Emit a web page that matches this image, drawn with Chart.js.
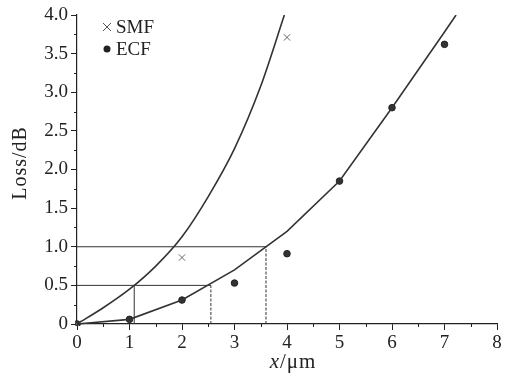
<!DOCTYPE html>
<html>
<head>
<meta charset="utf-8">
<script src="https://cdn.jsdelivr.net/npm/chart.js@4.4.0/dist/chart.umd.min.js"></script>
<style>
    html, body { margin: 0; padding: 0; background: #fff; }
    #wrap { position: relative; width: 505px; height: 374px; }
</style>
</head>
<body>
<div id="wrap"><canvas id="chart-loss" width="505" height="374"></canvas></div>
<script>
// measured points
const smfX = [0, 2, 4];
const smfLoss = [0, 0.86, 3.71];
const ecfX = [0, 1, 2, 3, 4, 5, 6, 7];
const ecfLoss = [0, 0.06, 0.31, 0.53, 0.91, 1.85, 2.80, 3.62];

// fitted curves
const smfFitX = [0, 0.5, 1.0, 1.5, 2.0, 2.5, 3.0, 3.5, 3.95];
const smfFitLoss = [0, 0.21, 0.45, 0.75, 1.13, 1.65, 2.27, 3.08, 4.0];
const ecfFitX = [0, 1, 2, 3, 4, 5, 6, 7, 7.22];
const ecfFitLoss = [0, 0.06, 0.31, 0.70, 1.20, 1.85, 2.80, 3.78, 4.0];

// guide lines (loss level -> width)
const guideLevels = [0.5, 1.0];
const guideSmfX = [1.09, 1.82];
const guideEcfX = [2.55, 3.6];

const xTicks = [0, 1, 2, 3, 4, 5, 6, 7, 8];
const yTicks = [0, 0.5, 1.0, 1.5, 2.0, 2.5, 3.0, 3.5, 4.0];

const FONT = "'Liberation Serif', 'Times New Roman', serif";
const INK = "#222";

const toPts = (xs, ys) => xs.map((x, i) => ({ x: x, y: ys[i] }));

const guideSets = [];
guideLevels.forEach((lv, i) => {
    // horizontal from axis to ECF curve
    guideSets.push({
        data: [{ x: 0, y: lv }, { x: guideEcfX[i], y: lv }],
        borderColor: "#333", borderWidth: 1, pointRadius: 0, showLine: true
    });
    // vertical drop lines
    guideSets.push({
        data: [{ x: guideEcfX[i], y: 0 }, { x: guideEcfX[i], y: lv }],
        borderColor: "#333", borderWidth: 1, borderDash: [3, 1.5], pointRadius: 0, showLine: true
    });
});
guideSets.push({
    data: [{ x: guideSmfX[0], y: 0 }, { x: guideSmfX[0], y: guideLevels[0] }],
    borderColor: "#333", borderWidth: 1, pointRadius: 0, showLine: true
});

// minor ticks, axis titles and legend drawn on top
const extrasPlugin = {
    id: "extras",
    afterDraw(chart) {
        const ctx = chart.ctx;
        const xs = chart.scales.x, ys = chart.scales.y;
        const area = chart.chartArea;
        ctx.save();
        ctx.strokeStyle = INK;
        ctx.lineWidth = 1;
        ctx.beginPath();
        for (let v = 0.5; v < 8; v += 1) {
            const px = Math.round(xs.getPixelForValue(v)) + 0.5;
            ctx.moveTo(px, area.bottom);
            ctx.lineTo(px, area.bottom + 3);
        }
        for (let v = 0.25; v < 4; v += 0.5) {
            const py = Math.round(ys.getPixelForValue(v)) + 0.5;
            ctx.moveTo(area.left, py);
            ctx.lineTo(area.left - 3, py);
        }
        ctx.stroke();

        ctx.fillStyle = INK;
        ctx.textBaseline = "middle";
        ctx.letterSpacing = "1px";

        // x axis title: italic x then /μm
        ctx.font = "italic 21px " + FONT;
        const wx = ctx.measureText("x").width;
        ctx.font = "21px " + FONT;
        const wr = ctx.measureText("/μm").width;
        const startX = 293 - (wx + wr) / 2;
        ctx.font = "italic 21px " + FONT;
        ctx.textAlign = "left";
        ctx.fillText("x", startX, 362);
        ctx.font = "21px " + FONT;
        ctx.fillText("/μm", startX + wx, 362);

        // y axis title
        ctx.save();
        ctx.translate(21, 163);
        ctx.rotate(-Math.PI / 2);
        ctx.textAlign = "center";
        ctx.font = "20px " + FONT;
        ctx.fillText("Loss/dB", 0, 0);
        ctx.restore();

        // legend
        ctx.letterSpacing = "0px";
        const lx = 107;
        ctx.strokeStyle = "#555";
        ctx.beginPath();
        ctx.moveTo(lx - 4, 23); ctx.lineTo(lx + 4, 31);
        ctx.moveTo(lx + 4, 23); ctx.lineTo(lx - 4, 31);
        ctx.stroke();
        ctx.fillStyle = INK;
        ctx.beginPath();
        ctx.arc(lx, 49, 3.5, 0, Math.PI * 2);
        ctx.fill();
        ctx.textAlign = "left";
        ctx.font = "19px " + FONT;
        ctx.fillText("SMF", 116, 28);
        ctx.fillText("ECF", 116, 50);
        ctx.restore();
    }
};

new Chart(document.getElementById("chart-loss").getContext("2d"), {
    type: "scatter",
    data: {
        datasets: [
            {
                label: "SMF fit",
                data: toPts(smfFitX, smfFitLoss),
                showLine: true, pointRadius: 0,
                borderColor: "#333", borderWidth: 1.6,
                cubicInterpolationMode: "monotone"
            },
            {
                label: "ECF fit",
                data: toPts(ecfFitX, ecfFitLoss),
                showLine: true, pointRadius: 0,
                borderColor: "#333", borderWidth: 1.6
            },
            ...guideSets,
            {
                label: "SMF",
                data: toPts(smfX, smfLoss),
                pointStyle: "crossRot", pointRadius: 4.5,
                borderColor: "#666", borderWidth: 1, backgroundColor: "#666"
            },
            {
                label: "ECF",
                data: toPts(ecfX, ecfLoss),
                pointStyle: "circle", pointRadius: 3.3,
                borderColor: INK, borderWidth: 1, backgroundColor: "#333"
            }
        ]
    },
    options: {
        responsive: false,
        animation: false,
        clip: { left: 2, top: 0, right: 2, bottom: 2 },
        layout: { padding: { top: 15, right: 8, left: 0, bottom: 0 } },
        plugins: {
            legend: { display: false },
            tooltip: { enabled: false }
        },
        scales: {
            x: {
                type: "linear", min: 0, max: 8,
                afterFit: s => { s.height = 50; },
                afterBuildTicks: s => { s.ticks = xTicks.map(v => ({ value: v })); },
                border: { color: INK, width: 1.2 },
                grid: { drawOnChartArea: false, tickLength: 6, color: INK },
                ticks: { color: INK, padding: 2, autoSkip: false, maxRotation: 0, font: { family: FONT, size: 19 } }
            },
            y: {
                type: "linear", min: 0, max: 4,
                afterFit: s => { s.width = 77; },
                afterBuildTicks: s => { s.ticks = yTicks.map(v => ({ value: v })); },
                border: { color: INK, width: 1.2 },
                grid: { drawOnChartArea: false, tickLength: 6, color: INK },
                ticks: {
                    color: INK, padding: 3, autoSkip: false, font: { family: FONT, size: 19 },
                    callback: v => (v === 0 ? "0" : v.toFixed(1))
                }
            }
        }
    },
    plugins: [extrasPlugin]
});
</script>
</body>
</html>
